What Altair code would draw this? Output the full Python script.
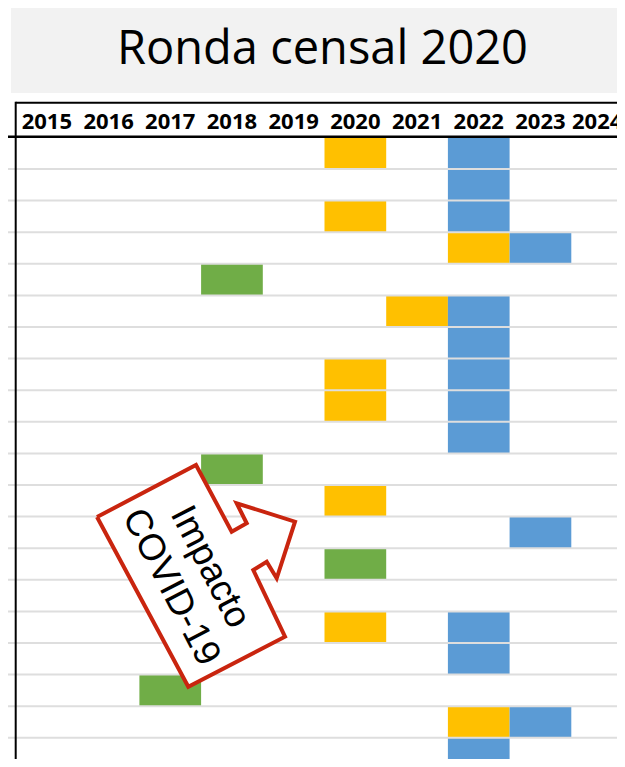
import altair as alt
import pandas as pd

# ---------------- data ----------------
years = [2015, 2016, 2017, 2018, 2019, 2020, 2021, 2022, 2023, 2024]
rows = list(range(20))

# each coloured cell: row index, year, colour group
cell_rows  = [0, 0, 1, 2, 2, 3, 3, 4, 5, 5, 6, 7, 7, 8, 8, 9, 10, 11, 12, 13, 15, 15, 16, 17, 18, 18, 19]
cell_years = [2020, 2022, 2022, 2020, 2022, 2022, 2023, 2018, 2021, 2022, 2022, 2020, 2022, 2020, 2022, 2022,
              2018, 2020, 2023, 2020, 2020, 2022, 2022, 2017, 2022, 2023, 2022]
cell_kind  = ["amarillo", "azul", "azul", "amarillo", "azul", "amarillo", "azul", "verde", "amarillo", "azul",
              "azul", "amarillo", "azul", "amarillo", "azul", "azul", "verde", "amarillo", "azul", "verde",
              "amarillo", "azul", "azul", "verde", "amarillo", "azul", "azul"]
kind_domain = ["amarillo", "azul", "verde"]
kind_colors = ["#FFC000", "#5B9BD5", "#70AD47"]

title_text = "Ronda censal 2020"
callout_text = "Impacto\nCOVID-19"

# outline of the arrow call-out (annotation shape, pixel space)
callout_x = [89, 188, 223.7, 238.7, 228.7, 287, 268.7, 258.7, 245.3, 277, 180.3, 89]
callout_y = [509, 457, 523.7, 515.3, 495.3, 513.7, 570.3, 553.7, 562, 628.7, 678.7, 509]

W, H = 609, 751
X_RANGE = [8, 625]
Y_RANGE = [129.4, 761.4]

cells = pd.DataFrame({"row": cell_rows, "year": cell_years, "kind": cell_kind})
year_df = pd.DataFrame({"year": years})
row_df = pd.DataFrame({"row": rows})
callout_df = pd.DataFrame({"px": callout_x, "py": callout_y, "i": list(range(len(callout_x)))})
one = pd.DataFrame({"t": [title_text]})
one_c = pd.DataFrame({"t": [callout_text]})

xscale = alt.Scale(domain=years, range=X_RANGE, paddingInner=0, paddingOuter=0)
yscale = alt.Scale(domain=rows, range=Y_RANGE, paddingInner=0, paddingOuter=0)

title_box = alt.Chart(one).mark_rect(color="#F2F2F2").encode(
    x=alt.value(3), x2=alt.value(W), y=alt.value(0), y2=alt.value(85)
)
title = alt.Chart(one).mark_text(
    font="Open Sans", fontSize=47, align="center", baseline="alphabetic", color="#000000"
).encode(x=alt.value(314.5), y=alt.value(56), text="t:N")

rects = alt.Chart(cells).mark_rect().encode(
    x=alt.X("year:O", scale=xscale, axis=None),
    y=alt.Y("row:O", scale=yscale, axis=None),
    color=alt.Color("kind:N", scale=alt.Scale(domain=kind_domain, range=kind_colors), legend=None),
)

grid = alt.Chart(row_df).mark_rule(color="#DEDEDE", strokeWidth=2).encode(
    y=alt.Y("row:O", scale=yscale, axis=None, bandPosition=1),
    x=alt.value(0), x2=alt.value(W),
)

head_top = alt.Chart(one).mark_rule(color="#000000", strokeWidth=2).encode(
    x=alt.value(7.7), x2=alt.value(W), y=alt.value(94.7)
)
head_bot = alt.Chart(one).mark_rule(color="#000000", strokeWidth=2.5).encode(
    x=alt.value(0), x2=alt.value(W), y=alt.value(128.7)
)
vline = alt.Chart(one).mark_rule(color="#000000", strokeWidth=2).encode(
    x=alt.value(7.7), y=alt.value(93.7), y2=alt.value(H)
)

label_style = dict(font="Open Sans", fontSize=22, fontWeight="bold", align="center",
                   baseline="alphabetic", color="#000000")
last_year = years[-1]
labels = alt.Chart(year_df).transform_filter(
    alt.datum.year < last_year
).mark_text(**label_style).encode(
    x=alt.X("year:O", scale=xscale, axis=None),
    y=alt.value(121.3),
    text=alt.Text("year:O"),
)
# the last column sits at the page edge: nudge its label slightly so it stays readable
label_last = alt.Chart(year_df).transform_filter(
    alt.datum.year == last_year
).mark_text(dx=-5, **label_style).encode(
    x=alt.X("year:O", scale=xscale, axis=None),
    y=alt.value(121.3),
    text=alt.Text("year:O"),
)

callout = alt.Chart(callout_df).mark_line(
    fill="#FFFFFF", stroke="#C9250F", strokeWidth=4, strokeJoin="miter"
).encode(
    x=alt.X("px:Q", scale=None, axis=None),
    y=alt.Y("py:Q", scale=None, axis=None),
    order="i:Q",
)

callout_label = alt.Chart(one_c).mark_text(
    font="Liberation Sans", fontSize=37, angle=62.6, align="center", baseline="middle",
    lineBreak="\n", lineHeight=44, color="#000000"
).encode(x=alt.value(202), y=alt.value(559), text="t:N")

chart = alt.layer(
    title_box, title, rects, grid, head_top, head_bot, vline, labels, label_last, callout, callout_label
).properties(
    width=W, height=H, padding=0, autosize=alt.AutoSizeParams(type="none")
).configure_view(stroke=None)

chart.save("out.html", embed_options={"renderer": "svg", "actions": False})
